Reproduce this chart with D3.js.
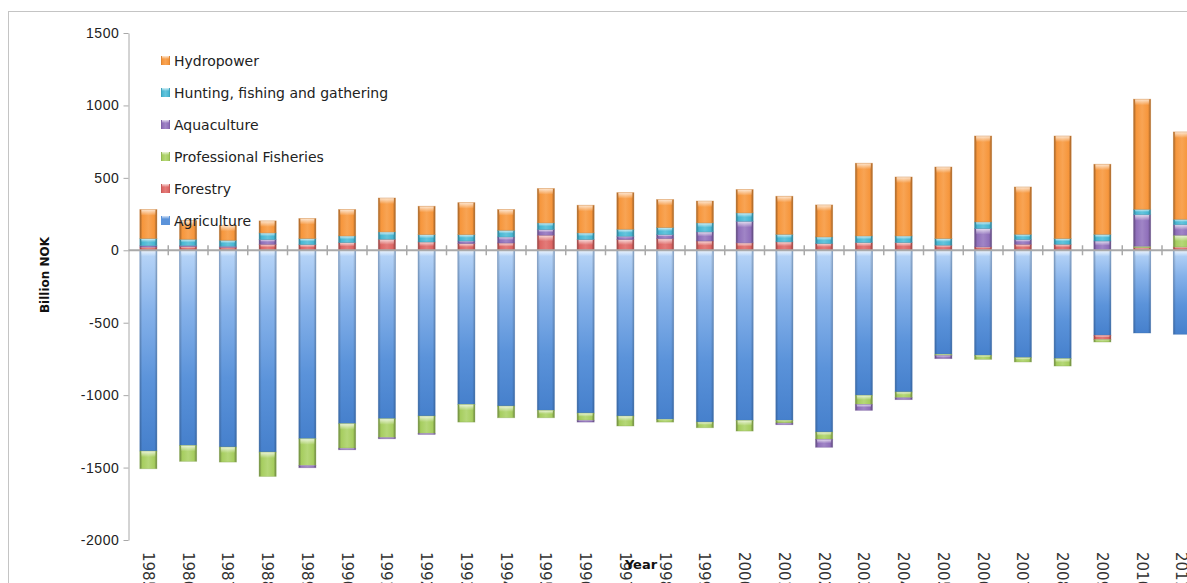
<!DOCTYPE html>
<html>
<head>
<meta charset="utf-8">
<script src="https://cdn.jsdelivr.net/npm/d3@7"></script>
<style>
    body { margin: 0; background: #fff; }
    svg { display: block; font-family: "DejaVu Sans", sans-serif; }
</style>
</head>
<body>
<div id="chart"></div>
<script>
const years = ["1985", "1986", "1987", "1988", "1989", "1990", "1991", "1992", "1993", "1994",
    "1995", "1996", "1997", "1998", "1999", "2000", "2001", "2002", "2003", "2004",
    "2005", "2006", "2007", "2008", "2009", "2010", "2011"];

const agriculture = [-1386, -1347, -1358, -1393, -1301, -1197, -1163, -1144, -1064, -1075,
    -1105, -1124, -1144, -1167, -1186, -1174, -1174, -1255, -1001, -978,
    -718, -725, -741, -748, -587, -571, -580];
const forestry = [22, 25, 20, 41, 39, 53, 76, 57, 46, 50,
    104, 74, 74, 80, 64, 51, 58, 46, 53, 53,
    35, 23, 41, 41, -30, 18, 23];
const fisheries = [-122, -110, -104, -168, -185, -170, -130, -120, -122, -81,
    -51, -50, -69, -19, -39, -74, -19, -50, -63, -40,
    -8, -28, -30, -51, -16, 10, 81];
const aquaculture = [10, 8, 8, 33, -15, -10, -8, -7, 18, 42,
    39, -12, 23, 28, 63, 149, -11, -55, -41, -13,
    -22, 127, 33, 0, 64, 218, 73];
const hunting = [49, 43, 41, 46, 42, 46, 51, 51, 44, 46,
    46, 46, 48, 49, 62, 58, 52, 46, 46, 46,
    46, 46, 36, 40, 46, 37, 37];
const hydropower = [200, 129, 104, 83, 138, 182, 234, 196, 221, 143,
    237, 191, 253, 193, 151, 161, 263, 221, 502, 407,
    494, 593, 327, 708, 484, 760, 603];

const seriesNames = ["Agriculture", "Forestry", "Professional Fisheries", "Aquaculture",
    "Hunting, fishing and gathering", "Hydropower"];
const seriesValues = [agriculture, forestry, fisheries, aquaculture, hunting, hydropower];
const seriesColors = ["#4f88d4", "#dd6664", "#a6cd5f", "#8f6fba", "#48b7d3", "#f6963c"];
const seriesLight = ["#b9d6f8", "#f4b8b6", "#e3f4c2", "#d4c6ea", "#b6ebf7", "#fccf9c"];

const yTicks = [-2000, -1500, -1000, -500, 0, 500, 1000, 1500];

render_chart("#chart");

function render_chart(placement) {
    const width = 1187, height = 583;
    const left = 128.5, step = 39.75;

    const svg = d3.select(placement).append("svg")
        .attr("width", width)
        .attr("height", height);

    const defs = svg.append("defs");

    // outer chart frame (cut off at right and bottom like the original)
    svg.append("rect")
        .attr("x", 8.5).attr("y", 11.5)
        .attr("width", 1300).attr("height", 700)
        .attr("fill", "none")
        .attr("stroke", "#c4c4c4");

    const x = d3.scaleBand()
        .domain(years)
        .range([left, left + step * years.length])
        .paddingInner(0.57)
        .paddingOuter(0.285);

    const y = d3.scaleLinear()
        .domain([-2000, 1500])
        .range([540, 33]);

    const rows = years.map((yr, i) => {
        const r = {year: yr};
        seriesNames.forEach((k, j) => r[k] = seriesValues[j][i]);
        return r;
    });

    const layers = d3.stack()
        .keys(seriesNames)
        .offset(d3.stackOffsetDiverging)(rows);

    // gradients
    seriesNames.forEach((k, i) => {
        const g = defs.append("linearGradient")
            .attr("id", "fill" + i)
            .attr("x1", 0).attr("y1", 0)
            .attr("x2", i === 0 ? 0 : 1).attr("y2", i === 0 ? 1 : 0);
        if (i === 0) {
            g.append("stop").attr("offset", 0).attr("stop-color", seriesLight[0]);
            g.append("stop").attr("offset", 0.3).attr("stop-color", "#86b2ea");
            g.append("stop").attr("offset", 0.65).attr("stop-color", "#5b93da");
            g.append("stop").attr("offset", 1).attr("stop-color", "#4680cc");
        } else {
            const c = d3.color(seriesColors[i]);
            g.append("stop").attr("offset", 0).attr("stop-color", c.darker(0.5));
            g.append("stop").attr("offset", 0.15).attr("stop-color", c);
            g.append("stop").attr("offset", 0.5).attr("stop-color", d3.interpolateRgb(c, seriesLight[i])(0.25));
            g.append("stop").attr("offset", 0.85).attr("stop-color", c);
            g.append("stop").attr("offset", 1).attr("stop-color", c.darker(0.5));
        }
    });

    const shade = defs.append("linearGradient").attr("id", "shade")
        .attr("x1", 0).attr("y1", 0).attr("x2", 1).attr("y2", 0);
    shade.append("stop").attr("offset", 0).attr("stop-color", "#000").attr("stop-opacity", 0.22);
    shade.append("stop").attr("offset", 0.15).attr("stop-color", "#000").attr("stop-opacity", 0);
    shade.append("stop").attr("offset", 0.85).attr("stop-color", "#000").attr("stop-opacity", 0);
    shade.append("stop").attr("offset", 1).attr("stop-color", "#000").attr("stop-opacity", 0.22);

    const hi = defs.append("linearGradient").attr("id", "hi")
        .attr("x1", 0).attr("y1", 0).attr("x2", 0).attr("y2", 1);
    hi.append("stop").attr("offset", 0).attr("stop-color", "#fff").attr("stop-opacity", 0.75);
    hi.append("stop").attr("offset", 1).attr("stop-color", "#fff").attr("stop-opacity", 0);

    // bars
    const segs = [];
    layers.forEach((layer, i) => {
        layer.forEach(d => {
            const top = y(Math.max(d[0], d[1]));
            const h = Math.abs(y(d[0]) - y(d[1]));
            if (h > 0.4) segs.push({i: i, year: d.data.year, top: top, h: h});
        });
    });

    const bw = x.bandwidth();
    const bars = svg.append("g");
    segs.forEach(s => {
        const g = bars.append("g").attr("transform", `translate(${x(s.year)},${s.top})`);
        g.append("rect")
            .attr("width", bw).attr("height", s.h)
            .attr("fill", `url(#fill${s.i})`);
        g.append("rect")
            .attr("width", bw).attr("height", s.h)
            .attr("fill", "url(#shade)");
        g.append("rect")
            .attr("x", 1.5)
            .attr("width", bw - 3).attr("height", Math.min(6, s.h * 0.5))
            .attr("fill", "url(#hi)");
        g.append("rect")
            .attr("width", bw).attr("height", s.h)
            .attr("fill", "none")
            .attr("stroke", d3.color(seriesColors[s.i]).darker(0.6))
            .attr("stroke-opacity", 0.45)
            .attr("stroke-width", 0.8);
    });

    // y axis
    const yAxis = d3.axisLeft(y)
        .tickValues(yTicks)
        .tickFormat(d => String(d))
        .tickSize(5)
        .tickPadding(4)
        .tickSizeOuter(0);

    const ya = svg.append("g")
        .attr("transform", `translate(${left},0)`)
        .call(yAxis);
    ya.select(".domain").attr("stroke", "#a8a8a8");
    ya.selectAll(".tick line").attr("stroke", "#a8a8a8");
    ya.selectAll(".tick text")
        .attr("fill", "#222")
        .style("font-size", "14px")
        .style("letter-spacing", "0.6px");

    // zero line with crossing ticks
    const y0 = y(0);
    svg.append("line")
        .attr("x1", left).attr("x2", width + 20)
        .attr("y1", y0).attr("y2", y0)
        .attr("stroke", "#a9a9a9")
        .attr("stroke-width", 2);
    svg.append("g").selectAll("line")
        .data(years)
        .join("line")
        .attr("x1", d => x(d) + bw / 2 + x.step() / 2)
        .attr("x2", d => x(d) + bw / 2 + x.step() / 2)
        .attr("y1", y0 - 5).attr("y2", y0 + 5)
        .attr("stroke", "#a9a9a9")
        .attr("stroke-width", 1.5);

    // year labels, rotated (run off the bottom edge like the original)
    svg.append("g").selectAll("text")
        .data(years)
        .join("text")
        .attr("transform", d => `translate(${x(d) + bw / 2},552) rotate(90)`)
        .attr("dy", "0.36em")
        .attr("fill", "#333")
        .style("font-size", "15px")
        .text(d => d);

    // axis titles
    svg.append("text")
        .attr("transform", "translate(45,275) rotate(-90)")
        .attr("text-anchor", "middle")
        .attr("dy", "0.35em")
        .style("font-size", "12px")
        .style("font-weight", "bold")
        .attr("fill", "#111")
        .text("Billion NOK");

    svg.append("text")
        .attr("x", 641).attr("y", 564)
        .attr("text-anchor", "middle")
        .attr("dy", "0.35em")
        .style("font-size", "13px")
        .style("font-weight", "bold")
        .attr("fill", "#111")
        .text("Year");

    // legend
    const legend = svg.append("g").attr("transform", "translate(161,61)");
    const order = d3.range(seriesNames.length).reverse();
    order.forEach((i, r) => {
        const g = legend.append("g").attr("transform", `translate(0,${r * 32})`);
        g.append("rect")
            .attr("x", 0).attr("y", -5)
            .attr("width", 9).attr("height", 9)
            .attr("fill", i === 0 ? "#5b93da" : `url(#fill${i})`);
        g.append("rect")
            .attr("x", 1).attr("y", -5)
            .attr("width", 7).attr("height", 3)
            .attr("fill", "url(#hi)");
        g.append("text")
            .attr("x", 13)
            .attr("dy", "0.35em")
            .attr("fill", "#222")
            .style("font-size", "14px")
            .text(seriesNames[i]);
    });
}
</script>
</body>
</html>
